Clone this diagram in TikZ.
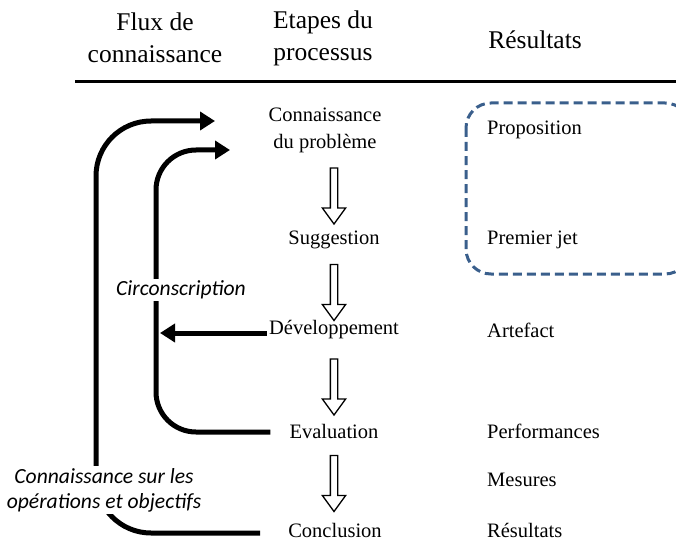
\documentclass[tikz,border=0pt]{standalone}
\usepackage{fontspec}
\setmainfont{Liberation Serif}
\newfontfamily\labfont{Carlito}
\usetikzlibrary{arrows.meta,shapes.arrows}

\begin{document}
\begin{tikzpicture}[x=1pt,y=-1pt,
every node/.style={inner sep=0pt},
head/.style={font=\fontsize{25.5}{32}\selectfont,align=center},
etape/.style={font=\fontsize{20.5}{27}\selectfont,align=center},
res/.style={font=\fontsize{20.5}{25}\selectfont,anchor=west},
lab/.style={font=\labfont\itshape\fontsize{21.6}{25}\selectfont,align=center,fill=white,inner sep=2pt},
flux/.style={line width=5pt,-{Triangle[length=15pt,width=18pt]}},
creux/.style={draw,line width=1.3pt,single arrow,rotate=-90,inner sep=3pt,
  single arrow head extend=8pt,single arrow tip angle=72,minimum height=56pt},
cadre/.style={draw={rgb,255:red,58;green,95;blue,140},line width=3pt,
  dash pattern=on 9pt off 5pt,rounded corners=25pt}
]
\useasboundingbox (0,0) rectangle (676,540);

% en-tete
\path (155,38) node[head] (hflux) {Flux de\\connaissance}
      (323,38) node[head] (hetap) {Etapes du\\processus}
      (535,40) node[head] (hres) {R\'esultats};
\draw[line width=3pt] (75,82) -- (676,82);

% etapes du processus
\path (325,130) node[etape] (prob) {Connaissance\\du probl\`eme}
      (334,240) node[etape] (sugg) {Suggestion}
      (334,330) node[etape] (dev) {D\'eveloppement}
      (334,431) node[etape] (eval) {Evaluation}
      (335,530) node[etape] (conc) {Conclusion};

\foreach \y/\n in {193.5/a1,290/a2,384.5/a3,481/a4}
  \path (334,\y) node[creux] (\n) {};

% resultats
\foreach \y/\n/\t in {130/prop/Proposition,240/jet/Premier jet,330/arte/Artefact,
  431/perf/Performances,480/mes/Mesures,530/resu/R\'esultats}
  \path (487,\y) node[res] (\n) {\t};
\draw[cadre] (466,103) rectangle (690,274);

% flux de connaissance
\coordinate (in1) at (215,121);
\coordinate (in2) at (230,150);
\coordinate (in3) at (160,333);
\draw[flux,rounded corners=55pt] ([xshift=-28pt,yshift=-3pt]conc.west) -- (96,533) -- (96,121) -- (in1);
\draw[flux,rounded corners=40pt] ([xshift=-19pt,yshift=-1pt]eval.west) -- (156,432) -- (156,150) -- (in2);
\draw[flux] ([xshift=-2pt,yshift=-3pt]dev.west) -- (in3);

\path (181,290) node[lab] (circ) {Circonscription}
      (104,490) node[lab] (conn) {Connaissance sur les\\op\'erations et objectifs};
\end{tikzpicture}
\end{document}
